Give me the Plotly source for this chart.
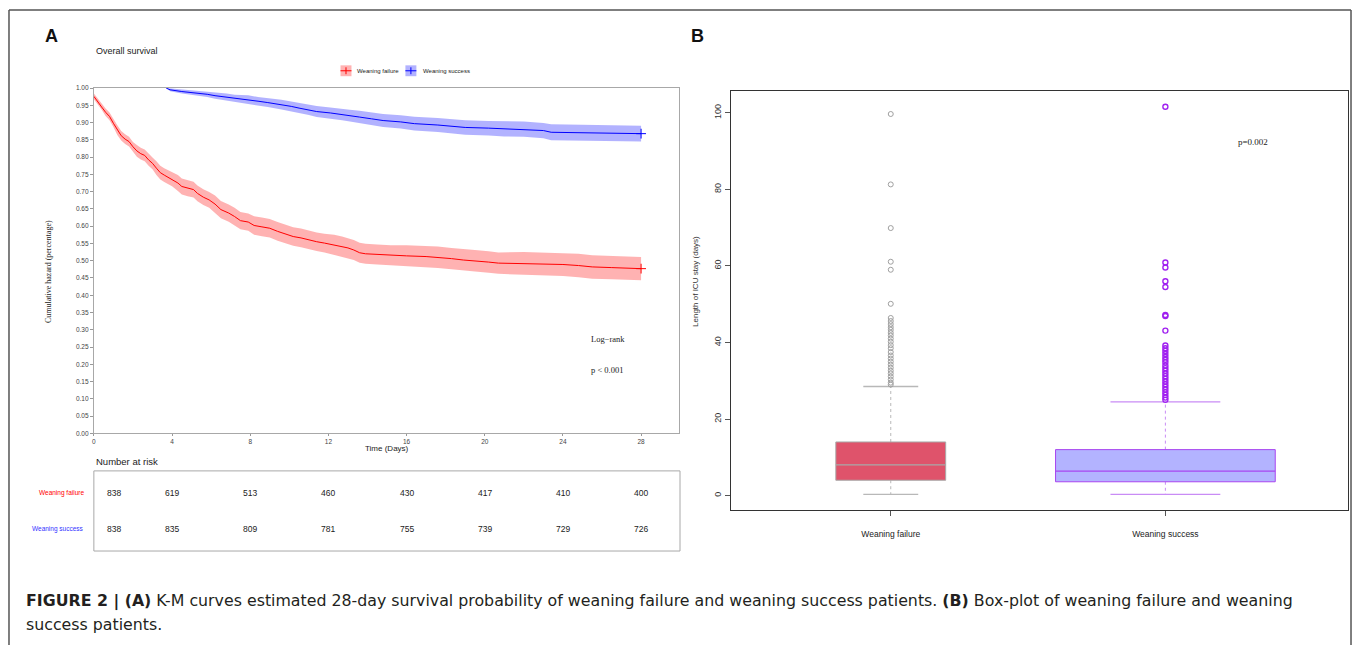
import plotly.graph_objects as go

# ---------------- DATA ----------------
# Panel A: Kaplan-Meier estimates
fail_t = [0, 0.2, 0.4, 0.6, 0.8, 1.0, 1.2, 1.4, 1.6, 1.8, 2.0, 2.2, 2.4, 2.6, 2.8, 3.0,
          3.2, 3.4, 3.6, 3.8, 4.0, 4.3, 4.5, 4.8, 5.1, 5.3, 5.6, 5.9, 6.2, 6.5, 6.9,
          7.2, 7.5, 7.9, 8.2, 8.6, 9.0, 9.4, 9.8, 10.2, 10.6, 11.0, 11.4, 11.8, 12.3,
          12.7, 13.0, 13.3, 13.6, 13.9, 14.5, 15.2, 16.0, 17.0, 17.6, 18.3, 18.9,
          19.5, 20.2, 20.7, 22.0, 23.0, 24.0, 24.8, 25.5, 26.5, 27.4, 28.0]
fail_s = [0.976, 0.962, 0.945, 0.930, 0.918, 0.898, 0.878, 0.862, 0.852, 0.845, 0.830,
          0.818, 0.810, 0.805, 0.792, 0.782, 0.768, 0.755, 0.748, 0.742, 0.736, 0.725,
          0.715, 0.710, 0.706, 0.695, 0.684, 0.676, 0.664, 0.648, 0.638, 0.628, 0.616,
          0.612, 0.602, 0.598, 0.594, 0.585, 0.577, 0.570, 0.566, 0.560, 0.555, 0.551,
          0.546, 0.541, 0.537, 0.531, 0.523, 0.520, 0.518, 0.516, 0.514, 0.512, 0.510,
          0.506, 0.502, 0.500, 0.496, 0.493, 0.492, 0.491, 0.489, 0.486, 0.482, 0.480,
          0.478, 0.477]
fail_lo = [0.968, 0.954, 0.937, 0.919, 0.907, 0.887, 0.864, 0.848, 0.838, 0.831, 0.816,
           0.801, 0.793, 0.788, 0.775, 0.765, 0.748, 0.735, 0.728, 0.722, 0.716, 0.702,
           0.692, 0.687, 0.683, 0.672, 0.661, 0.653, 0.639, 0.623, 0.613, 0.603, 0.591,
           0.587, 0.575, 0.571, 0.567, 0.558, 0.550, 0.543, 0.539, 0.533, 0.528, 0.524,
           0.517, 0.512, 0.508, 0.502, 0.494, 0.491, 0.489, 0.487, 0.483, 0.481, 0.479,
           0.475, 0.471, 0.469, 0.465, 0.462, 0.459, 0.458, 0.456, 0.452, 0.448, 0.446,
           0.444, 0.443]
fail_hi = [0.984, 0.970, 0.953, 0.941, 0.929, 0.909, 0.892, 0.876, 0.866, 0.859, 0.844,
           0.835, 0.827, 0.822, 0.809, 0.799, 0.788, 0.775, 0.768, 0.762, 0.756, 0.748,
           0.738, 0.733, 0.729, 0.718, 0.707, 0.699, 0.689, 0.673, 0.663, 0.653, 0.641,
           0.637, 0.629, 0.625, 0.621, 0.612, 0.604, 0.597, 0.593, 0.587, 0.582, 0.578,
           0.575, 0.570, 0.566, 0.560, 0.552, 0.549, 0.547, 0.545, 0.545, 0.543, 0.541,
           0.537, 0.533, 0.531, 0.527, 0.524, 0.525, 0.524, 0.522, 0.520, 0.516, 0.514,
           0.512, 0.511]

succ_t = [3.7, 3.9, 4.5, 5.3, 5.8, 6.2, 6.8, 7.2, 7.9, 8.4, 8.9, 9.6, 10.1, 10.5, 11.0,
          11.4, 12.1, 12.7, 13.1, 13.6, 14.2, 14.8, 15.7, 16.4, 17.6, 18.4, 19.0, 20.2,
          21.0, 22.0, 23.0, 23.4, 25.0, 26.6, 28.0]
succ_s = [1.000, 0.995, 0.990, 0.986, 0.982, 0.978, 0.974, 0.970, 0.967, 0.962,
          0.958, 0.952, 0.947, 0.942, 0.937, 0.932, 0.928, 0.924, 0.920, 0.916, 0.911,
          0.906, 0.902, 0.897, 0.893, 0.889, 0.886, 0.884, 0.882, 0.881, 0.877, 0.872,
          0.871, 0.869, 0.868]
succ_lo = [1.000, 0.991, 0.984, 0.979, 0.974, 0.969, 0.964, 0.959, 0.955, 0.950,
           0.945, 0.938, 0.933, 0.927, 0.922, 0.916, 0.912, 0.907, 0.903, 0.898, 0.893,
           0.887, 0.883, 0.877, 0.873, 0.868, 0.865, 0.863, 0.860, 0.859, 0.855, 0.849,
           0.848, 0.846, 0.845]
succ_hi = [1.000, 0.999, 0.996, 0.993, 0.990, 0.987, 0.984, 0.981, 0.979, 0.974,
           0.971, 0.966, 0.961, 0.957, 0.952, 0.948, 0.944, 0.941, 0.937, 0.934, 0.929,
           0.925, 0.921, 0.917, 0.913, 0.910, 0.907, 0.905, 0.904, 0.903, 0.899, 0.895,
           0.894, 0.892, 0.891]

risk_times = [0, 4, 8, 12, 16, 20, 24, 28]
risk_fail = [838, 619, 513, 460, 430, 417, 410, 400]
risk_succ = [838, 835, 809, 781, 755, 739, 729, 726]
groups = ["Weaning failure", "Weaning success"]

# Panel B: box-plot statistics (days)
box_lo_whisker = [0.3, 0.3]
box_q1 = [4.0, 3.6]
box_median = [8.0, 6.4]
box_q3 = [14.0, 12.0]
box_hi_whisker = [28.5, 24.5]
out_fail = [99.7, 81.3, 69.9, 61.1, 59.0, 50.1, 46.4, 45.6, 44.8, 44.0, 43.3, 42.5, 41.8,
            41.0, 40.2, 39.3, 38.5, 37.5, 36.6, 35.8, 35.0, 34.2, 33.4, 32.6, 31.9, 31.1,
            30.3, 29.5, 29.0]
out_succ = [101.6, 60.9, 59.6, 56.0, 54.5, 47.2, 46.9, 43.1, 39.2, 38.5, 37.8, 37.0, 36.2,
            35.5, 34.8, 34.0, 33.3, 32.6, 31.9, 31.2, 30.5, 29.8, 29.1, 28.4, 27.7, 27.0,
            26.3, 25.6, 25.0]

# ---------------- STYLE ----------------
W, H = 1358, 648
SANS = "Liberation Sans, Arial, Helvetica, sans-serif"
SERIF = "Liberation Serif, Times New Roman, serif"
CAPTION_FONT = "DejaVu Sans, Liberation Sans, Arial, sans-serif"
RED, BLUE = "#FF0000", "#0000FF"
BOX_W = [0.4, 0.8]
BOX_FILL = ["#DF536B", "#B3B3FF"]
BOX_LINE = ["#A8A8A8", "#A846F0"]
WHISK = ["#B8B8B8", "#C98CF5"]
OUT_COL = ["#A0A0A0", "#A020F0"]


def px(x):
    return x / W


def py(y):
    return 1 - y / H


fig = go.Figure()

# ---- Panel A: KM curves ----
for t, lo, hi, col in [(fail_t, fail_lo, fail_hi, "rgba(255,0,0,0.3)"),
                       (succ_t, succ_lo, succ_hi, "rgba(0,0,255,0.3)")]:
    fig.add_trace(go.Scatter(x=t, y=lo, mode="lines", line=dict(width=0),
                             showlegend=False, hoverinfo="skip", xaxis="x", yaxis="y"))
    fig.add_trace(go.Scatter(x=t, y=hi, mode="lines", line=dict(width=0),
                             fill="tonexty", fillcolor=col, showlegend=False,
                             hoverinfo="skip", xaxis="x", yaxis="y"))
for t, s, col, name in [(fail_t, fail_s, RED, groups[0]), (succ_t, succ_s, BLUE, groups[1])]:
    fig.add_trace(go.Scatter(x=t, y=s, mode="lines", line=dict(color=col, width=1),
                             name=name, showlegend=False, xaxis="x", yaxis="y"))
    fig.add_trace(go.Scatter(x=[t[-1]], y=[s[-1]], mode="markers",
                             marker=dict(symbol="cross-thin", size=7,
                                         line=dict(color=col, width=1)),
                             showlegend=False, hoverinfo="skip", xaxis="x", yaxis="y"))

# ---- Panel B: box plots ----
for i in range(2):
    xc = i + 1
    w = BOX_W[i]
    fig.add_trace(go.Scatter(x=[xc, xc, None, xc, xc],
                             y=[box_q3[i], box_hi_whisker[i], None, box_q1[i], box_lo_whisker[i]],
                             mode="lines", line=dict(color=WHISK[i], width=1, dash="dot"),
                             showlegend=False, hoverinfo="skip", xaxis="x2", yaxis="y2"))
    fig.add_trace(go.Scatter(x=[xc - w / 4, xc + w / 4, None, xc - w / 4, xc + w / 4],
                             y=[box_hi_whisker[i], box_hi_whisker[i], None,
                                box_lo_whisker[i], box_lo_whisker[i]],
                             mode="lines", line=dict(color=WHISK[i], width=1.3),
                             showlegend=False, hoverinfo="skip", xaxis="x2", yaxis="y2"))
    fig.add_trace(go.Scatter(x=[xc - w / 2, xc + w / 2, xc + w / 2, xc - w / 2, xc - w / 2],
                             y=[box_q1[i], box_q1[i], box_q3[i], box_q3[i], box_q1[i]],
                             mode="lines", fill="toself", fillcolor=BOX_FILL[i],
                             line=dict(color=BOX_LINE[i], width=1),
                             showlegend=False, hoverinfo="skip", xaxis="x2", yaxis="y2"))
    fig.add_trace(go.Scatter(x=[xc - w / 2, xc + w / 2], y=[box_median[i], box_median[i]],
                             mode="lines", line=dict(color=BOX_LINE[i], width=1.3),
                             showlegend=False, hoverinfo="skip", xaxis="x2", yaxis="y2"))
    outs = out_fail if i == 0 else out_succ
    fig.add_trace(go.Scatter(x=[xc] * len(outs), y=outs, mode="markers",
                             marker=dict(symbol="circle-open", size=5,
                                         line=dict(color=OUT_COL[i], width=1 if i == 0 else 1.4),
                                         color=OUT_COL[i]),
                             showlegend=False, hoverinfo="skip", xaxis="x2", yaxis="y2"))

tickfontA = dict(family=SANS, size=6.5, color="#444")
fig.update_layout(
    width=W, height=H, autosize=False,
    margin=dict(l=0, r=0, t=0, b=0),
    paper_bgcolor="white", plot_bgcolor="white",
    showlegend=False,
    xaxis=dict(domain=[px(92), px(678)], range=[0, 29.94], anchor="y",
               tickvals=risk_times, ticks="outside", ticklen=2, tickcolor="#999",
               showline=True, mirror=True, linecolor="#A8A8A8", linewidth=1,
               showgrid=False, zeroline=False, tickfont=tickfontA),
    yaxis=dict(domain=[py(434), py(85)], range=[0, 1], anchor="x",
               tickvals=[i * 0.05 for i in range(21)], tickformat=".2f",
               ticks="outside", ticklen=3, tickcolor="#999",
               showline=True, mirror=True, linecolor="#A8A8A8", linewidth=1,
               showgrid=False, zeroline=False, tickfont=tickfontA),
    xaxis2=dict(domain=[px(730), px(1348)], range=[0.418, 2.665], anchor="y2",
                tickvals=[1, 2], ticktext=groups, ticks="outside", ticklen=5,
                tickcolor="#555", ticklabelstandoff=10,
                showline=True, mirror=True, linecolor="#333", linewidth=1,
                showgrid=False, zeroline=False,
                tickfont=dict(family=SANS, size=8.5, color="#222")),
    yaxis2=dict(domain=[py(512), py(88)], range=[-3.9, 105.7], anchor="x2",
                tickvals=[0, 20, 40, 60, 80, 100], ticks="outside", ticklen=5,
                tickcolor="#555", tickangle=-90,
                showline=True, mirror=True, linecolor="#333", linewidth=1,
                showgrid=False, zeroline=False,
                tickfont=dict(family=SANS, size=9, color="#333")),
)

ann = []


def A(text, x, y, size, color="#222", family=SANS, xanchor="center", yanchor="middle",
      angle=0, xref="paper", xshift=0):
    ann.append(dict(text=text, x=x, y=y, xref=xref, yref="paper", showarrow=False,
                    font=dict(family=family, size=size, color=color), xanchor=xanchor,
                    yanchor=yanchor, textangle=angle, xshift=xshift))


A("<b>A</b>", px(50), py(32), 18, "#111")
A("<b>B</b>", px(697), py(32), 18, "#111")
A("Overall survival", px(92), py(48), 9, "#222", xanchor="left")
A("Cumulative hazard (percentage)", px(46), py(270), 8, "#222", family=SERIF, angle=-90)
A("Time (Days)", px(386), py(449), 8, "#222")
A("Log\u2212rank", px(588), py(339), 8.5, "#222", family=SERIF, xanchor="left")
A("p < 0.001", px(588), py(370), 8.5, "#222", family=SERIF, xanchor="left")
A(groups[0], px(354), py(67.5), 6, "#222", xanchor="left")
A(groups[1], px(420), py(67.5), 6, "#222", xanchor="left")
A("Number at risk", px(92), py(463), 9.5, "#222", xanchor="left")
A(groups[0], px(84), py(494), 6.5, RED, xanchor="right")
A(groups[1], px(84), py(531), 6.5, "#3333FF", xanchor="right")
for k, t in enumerate(risk_times):
    A(str(risk_fail[k]), t, py(494), 8.5, "#222", xref="x", xshift=20 if k == 0 else 0)
    A(str(risk_succ[k]), t, py(531), 8.5, "#222", xref="x", xshift=20 if k == 0 else 0)
A("Length of ICU stay (days)", px(695), py(280), 8, "#333", angle=-90)
A("p=0.002", px(1253), py(140), 9, "#222", family=SERIF)
A("<b>FIGURE 2 | (A)</b> K-M curves estimated 28-day survival probability of weaning failure "
  "and weaning success patients. <b>(B)</b> Box-plot of weaning failure and weaning",
  px(22), py(604), 15.8, "#231F20", family=CAPTION_FONT, xanchor="left")
A("success patients.", px(22), py(627), 15.8, "#231F20", family=CAPTION_FONT, xanchor="left")
fig.update_layout(annotations=ann)

shapes = []
for (x0, y0, x1, y1) in [(7, 6, 1351, 6), (7, 6, 7, 648), (1351, 6, 1351, 648)]:
    shapes.append(dict(type="line", xref="paper", yref="paper", x0=px(x0), y0=py(y0),
                       x1=px(x1), y1=py(y1), line=dict(color="#555", width=1.5)))
shapes.append(dict(type="rect", xref="paper", yref="paper", x0=px(92), y0=py(553),
                   x1=px(679), y1=py(472), line=dict(color="#A8A8A8", width=1)))
for (x0, fc, lc) in [(339, "rgba(255,0,0,0.3)", RED), (404, "rgba(0,0,255,0.3)", BLUE)]:
    shapes.append(dict(type="rect", xref="paper", yref="paper", x0=px(x0), y0=py(73),
                       x1=px(x0 + 11), y1=py(62), fillcolor=fc, line=dict(width=0)))
    shapes.append(dict(type="line", xref="paper", yref="paper", x0=px(x0), y0=py(67.5),
                       x1=px(x0 + 11), y1=py(67.5), line=dict(color=lc, width=1)))
    shapes.append(dict(type="line", xref="paper", yref="paper", x0=px(x0 + 5.5), y0=py(64),
                       x1=px(x0 + 5.5), y1=py(71), line=dict(color=lc, width=1)))
fig.update_layout(shapes=shapes)

fig.write_html("out.html")
